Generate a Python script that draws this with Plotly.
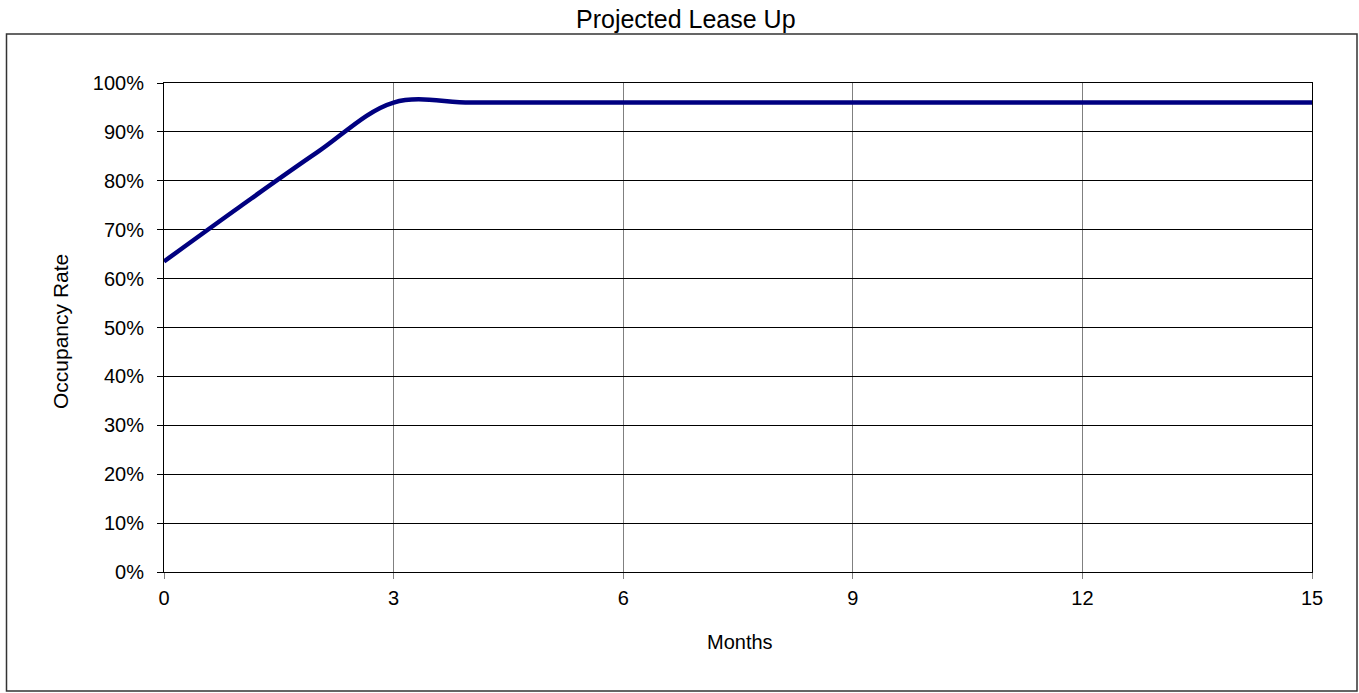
import plotly.graph_objects as go

months = list(range(0, 16))
occupancy = [0.635, 0.748, 0.858, 0.96, 0.96, 0.96, 0.96, 0.96, 0.96, 0.96, 0.96, 0.96, 0.96, 0.96, 0.96, 0.96]
x_ticks = [0, 3, 6, 9, 12, 15]
y_ticks = [i / 10 for i in range(0, 11)]

W, H = 1359, 693
L, R, T, B = 164, 1312, 83, 572
pw, ph = R - L, B - T
FONT = "Liberation Sans, Arial, sans-serif"

fig = go.Figure()
fig.add_trace(go.Scatter(
    x=months, y=occupancy, mode="lines",
    line=dict(color="#000080", width=4.5, shape="spline", smoothing=1),
    showlegend=False, cliponaxis=False,
))

def px_x(p):
    return (p - L) / pw

def px_y(p):
    return (B - p) / ph

fig.update_layout(
    width=W, height=H,
    margin=dict(l=L, r=W - R, t=T, b=H - B, autoexpand=False),
    paper_bgcolor="white", plot_bgcolor="white",
    font=dict(family=FONT, size=20, color="black"),
    xaxis=dict(range=[0, 15], tickvals=x_ticks, showgrid=True, gridcolor="#808080", gridwidth=1,
               showline=True, linecolor="black", linewidth=1, mirror=True,
               ticks="outside", ticklen=6, tickcolor="#808080", ticklabelstandoff=2,
               zeroline=False),
    yaxis=dict(range=[0, 1], tickvals=y_ticks, tickformat=".0%", showgrid=True,
               gridcolor="black", gridwidth=1,
               showline=True, linecolor="black", linewidth=1, mirror=True,
               ticks="outside", ticklen=6, tickcolor="black", ticklabelstandoff=9,
               zeroline=False),
    shapes=[dict(type="rect", xref="paper", yref="paper",
                 x0=px_x(6.5), x1=px_x(1357), y0=px_y(691), y1=px_y(34),
                 line=dict(color="#333333", width=1.5), fillcolor="rgba(0,0,0,0)", layer="below")],
    annotations=[
        dict(text="Projected Lease Up", xref="paper", yref="paper", x=px_x(686), y=px_y(19),
             xanchor="center", yanchor="middle", showarrow=False,
             font=dict(family=FONT, size=25, color="black")),
        dict(text="Months", xref="paper", yref="paper", x=px_x(740), y=px_y(642),
             xanchor="center", yanchor="middle", showarrow=False,
             font=dict(family=FONT, size=20, color="black")),
        dict(text="Occupancy Rate", xref="paper", yref="paper", x=px_x(60), y=px_y(332),
             xanchor="center", yanchor="middle", showarrow=False, textangle=-90,
             font=dict(family=FONT, size=21, color="black")),
    ],
)

fig.write_html("out.html", config={"displayModeBar": False},
               post_script="document.body.style.margin='0px';")
